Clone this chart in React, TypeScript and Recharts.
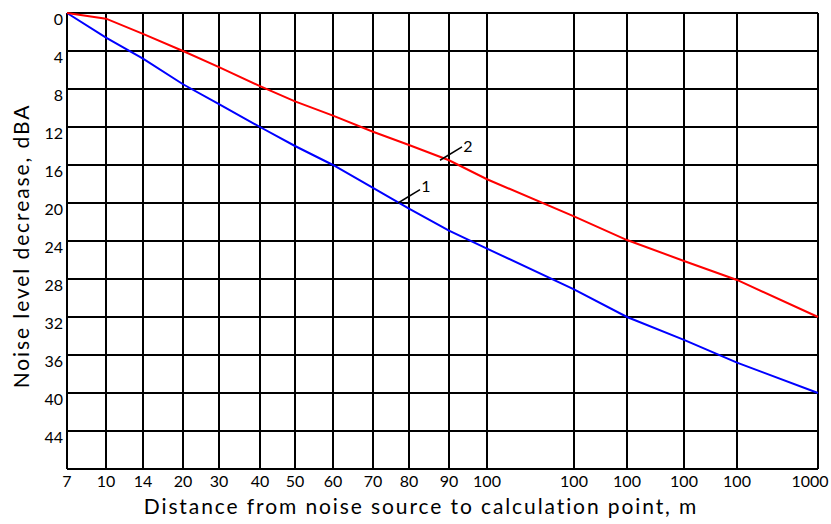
import { LineChart, Line, XAxis, YAxis, CartesianGrid, ReferenceLine, ReferenceDot, Label } from 'recharts'

// tick labels as printed on the original (the repeated "100" is in the source figure)
const distanceLabels = ['7', '10', '14', '20', '30', '40', '50', '60', '70', '80', '90', '100', '100', '100', '100', '100', '1000']
// the distance axis is hand drawn and uneven: where each labelled distance sits along it (axis units)
const distanceTicks = [0, 39, 76, 116, 152, 193, 228, 266, 306, 342, 382, 420, 507, 560, 617, 670, 751]
// noise level decrease, dBA
const curve1 = [0, 2.6, 4.8, 7.5, 9.6, 12, 14, 16, 18.4, 20.6, 22.9, 24.8, 29.1, 32, 34.4, 36.8, 40]
const curve2 = [0, 0.6, 2.2, 4, 5.7, 7.7, 9.3, 10.8, 12.5, 13.9, 15.5, 17.5, 21.4, 23.9, 26.1, 28.1, 32]
const levelTicks = [0, 4, 8, 12, 16, 20, 24, 28, 32, 36, 40, 44]

// curve number callouts: leader line start/end and the number
const callouts = [
  { name: '1', from: { x: 331, y: 20.0 }, to: { x: 353, y: 18.6 }, at: { x: 359, y: 18.2 } },
  { name: '2', from: { x: 373, y: 15.5 }, to: { x: 395, y: 14.1 }, at: { x: 401, y: 14.0 } },
]

const data = distanceTicks.map((pos, i) => ({
  pos,
  c1: curve1[i],
  c2: curve2[i],
}))

const FONT = 'Lato, "Open Sans", sans-serif'

const labelFor = (v: number) => distanceLabels[distanceTicks.indexOf(v)] ?? ''

function YTick(props: any) {
  const { x, y, payload } = props
  return (
    <text x={x + 4} y={y + 8} textAnchor="end" dominantBaseline="middle" fontSize={16} fontFamily={FONT} fill="#000">
      {payload.value}
    </text>
  )
}

function XTick(props: any) {
  const { x, y, payload } = props
  const last = payload.value === distanceTicks[distanceTicks.length - 1]
  return (
    <text x={last ? x - 8 : x} y={y + 6} textAnchor="middle" dominantBaseline="middle" fontSize={16} fontFamily={FONT} fill="#000">
      {labelFor(payload.value)}
    </text>
  )
}

export default function App() {
  return (
    <div style={{ width: 831, height: 524, background: '#fff' }}>
      <style>{'body{margin:0}'}</style>
      <LineChart width={831} height={524} data={data} margin={{ top: 13, right: 13, bottom: 0, left: 0 }}>
        <CartesianGrid stroke="#000" strokeWidth={2} />
        <XAxis
          dataKey="pos"
          type="number"
          domain={[0, 751]}
          ticks={distanceTicks}
          interval={0}
          height={55}
          stroke="#000"
          strokeWidth={2}
          tickLine={false}
          tick={<XTick />}
        >
          <Label
            content={() => (
              <text x={421} y={514} textAnchor="middle" fontSize={21} letterSpacing={1.9} fontFamily={FONT} fill="#000">
                Distance from noise source to calculation point, m
              </text>
            )}
          />
        </XAxis>
        <YAxis
          type="number"
          reversed
          domain={[0, 48]}
          ticks={levelTicks}
          interval={0}
          width={67}
          axisLine={false}
          tickLine={false}
          tick={<YTick />}
        >
          <Label
            content={() => (
              <text x={24} y={246} transform="rotate(-90 24 246)" textAnchor="middle" dominantBaseline="middle" fontSize={21} letterSpacing={1.9} fontFamily={FONT} fill="#000">
                Noise level decrease, dBA
              </text>
            )}
          />
        </YAxis>
        <Line type="linear" dataKey="c1" stroke="#0000ff" strokeWidth={2} dot={false} isAnimationActive={false} />
        <Line type="linear" dataKey="c2" stroke="#ff0000" strokeWidth={2} dot={false} isAnimationActive={false} />
        {callouts.map(c => (
          <ReferenceLine key={'l' + c.name} segment={[c.from, c.to]} stroke="#000" strokeWidth={1.5} />
        ))}
        {callouts.map(c => (
          <ReferenceDot
            key={'d' + c.name}
            x={c.at.x}
            y={c.at.y}
            r={0}
            stroke="none"
            fill="none"
            label={{ value: c.name, position: 'center', fontSize: 16, fontFamily: FONT, fill: '#000' }}
          />
        ))}
      </LineChart>
    </div>
  )
}
